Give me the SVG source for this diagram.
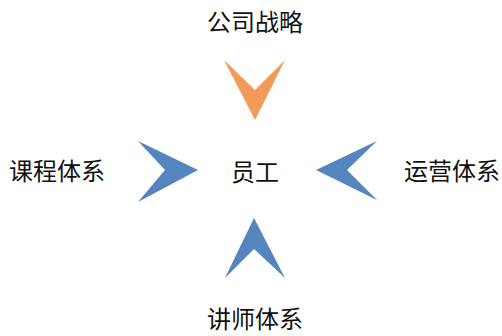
<svg xmlns="http://www.w3.org/2000/svg" width="502" height="336" viewBox="0 0 502 336">
<style>
text{font-family:"Noto Sans CJK SC","Noto Sans",sans-serif;font-size:24px;fill:#111;text-anchor:middle}
.blue{fill:#5585BF}
.orange{fill:#F39A5B}
</style>
<rect width="502" height="336" fill="#fff"/>
<g id="strategy"><text x="255" y="31">公司战略</text></g>
<g id="course"><text x="57" y="180">课程体系</text></g>
<g id="staff"><text x="255" y="181">员工</text></g>
<g id="ops"><text x="452" y="180">运营体系</text></g>
<g id="lecturer"><text x="255" y="328">讲师体系</text></g>
<g id="connectors">
<polygon class="orange" points="224,60 255,90 285,60 255,120"/>
<polygon class="blue" points="138,141 198,170 138,202 165,170"/>
<polygon class="blue" points="377,141 316,170 377,200 347,170"/>
<polygon class="blue" points="254,218 285,278 254,249 225,278"/>
</g>
</svg>
